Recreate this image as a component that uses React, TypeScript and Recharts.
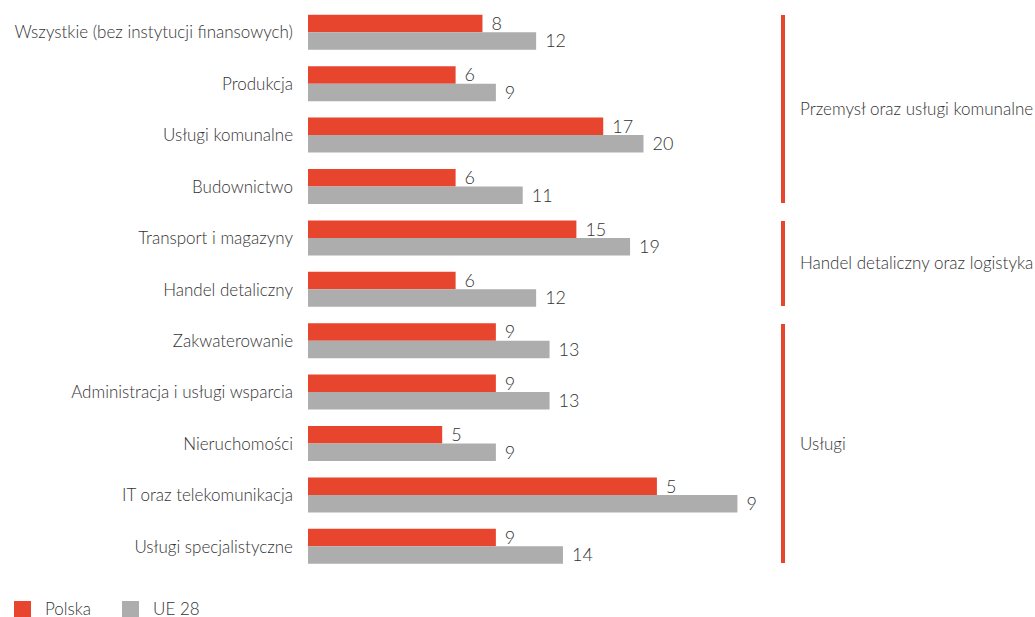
import { BarChart, Bar, XAxis, YAxis, LabelList } from 'recharts';

const RED  = '#E8452F';
const GREY = '#ADADAD';
const TEXT = '#333333';
const FONT = 'Lato, "Open Sans", sans-serif';

const categories = [
  'Wszystkie (bez instytucji finansowych)',
  'Produkcja',
  'Usługi komunalne',
  'Budownictwo',
  'Transport i magazyny',
  'Handel detaliczny',
  'Zakwaterowanie',
  'Administracja i usługi wsparcia',
  'Nieruchomości',
  'IT oraz telekomunikacja',
  'Usługi specjalistyczne',
];

// bar lengths as drawn (the IT row is drawn longer than its printed label)
const polska = [8, 6, 17, 6, 15, 6, 9, 9, 5, 21, 9];
const ue28   = [12, 9, 20, 11, 19, 12, 13, 13, 9, 27, 14];

// printed value labels
const polskaLabels = ['8', '6', '17', '6', '15', '6', '9', '9', '5', '5', '9'];
const ue28Labels   = ['12', '9', '20', '11', '19', '12', '13', '13', '9', '9', '14'];

const groups = [
  { name: 'Przemysł oraz usługi komunalne', from: 0, to: 3 },
  { name: 'Handel detaliczny oraz logistyka', from: 4, to: 5 },
  { name: 'Usługi', from: 6, to: 10 },
];

const AXIS_MIN = -5;

const data = categories.map((name, i) => ({
  name,
  pl: [AXIS_MIN, polska[i]],
  ue: [AXIS_MIN, ue28[i]],
  plLabel: polskaLabels[i],
  ueLabel: ue28Labels[i],
}));

const TOP = 6.75;
const ROW = 51.5;

export default function App() {
  return (
    <div style={{ position: 'absolute', left: 0, top: 0, width: 1035, height: 617, background: '#fff', fontFamily: FONT }}>
      <BarChart
        width={1035}
        height={580}
        layout="vertical"
        data={data}
        margin={{ top: TOP, right: 52, bottom: 7.75, left: 0 }}
        barSize={17.5}
        barGap={0}
      >
        <XAxis type="number" domain={[AXIS_MIN, 45.3]} hide allowDataOverflow />
        <YAxis
          type="category"
          dataKey="name"
          width={308}
          axisLine={false}
          tickLine={false}
          tickSize={0}
          tickMargin={15}
          interval={0}
          tick={{ fill: TEXT, fontSize: 17, fontFamily: FONT, fontWeight: 300 }}
        />
        <Bar dataKey="pl" fill={RED} isAnimationActive={false}>
          <LabelList dataKey="plLabel" position="right" offset={9}
            style={{ fill: TEXT, fontSize: 18, fontFamily: FONT, fontWeight: 300 }} />
        </Bar>
        <Bar dataKey="ue" fill={GREY} isAnimationActive={false}>
          <LabelList dataKey="ueLabel" position="right" offset={9}
            style={{ fill: TEXT, fontSize: 18, fontFamily: FONT, fontWeight: 300 }} />
        </Bar>
      </BarChart>

      {groups.map((g) => {
        const y1 = TOP + g.from * ROW + 8.25;
        const y2 = TOP + (g.to + 1) * ROW - 10;
        return (
          <div key={g.name}>
            <div style={{ position: 'absolute', left: 781, top: y1, width: 4, height: y2 - y1, background: RED }} />
            <div style={{
              position: 'absolute', left: 800, top: (y1 + y2) / 2 - 11, height: 22, lineHeight: '22px',
              fontSize: 17, fontWeight: 300, color: TEXT, whiteSpace: 'nowrap',
            }}>{g.name}</div>
          </div>
        );
      })}

      <div style={{ position: 'absolute', left: 14, top: 598, display: 'flex', alignItems: 'center', fontSize: 17, fontWeight: 300, color: TEXT }}>
        <span style={{ width: 17, height: 16, background: RED, display: 'inline-block', marginRight: 14 }} />
        <span style={{ marginRight: 31 }}>Polska</span>
        <span style={{ width: 17, height: 16, background: GREY, display: 'inline-block', marginRight: 14 }} />
        <span>UE 28</span>
      </div>
    </div>
  );
}
